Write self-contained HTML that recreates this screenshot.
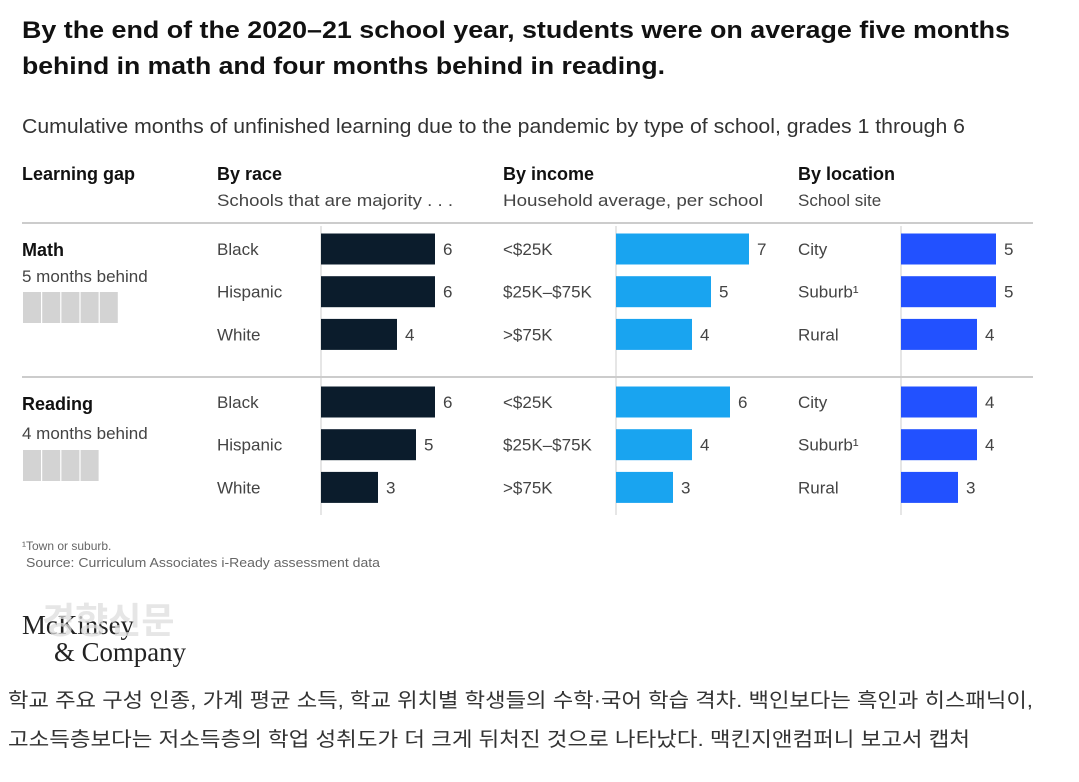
<!DOCTYPE html>
<html><head><meta charset="utf-8"><style>
body{margin:0;background:#fff;}
svg text{font-family:"Liberation Sans","Noto Sans CJK KR",sans-serif;}
</style></head><body>
<svg width="1079" height="777" viewBox="0 0 1079 777">
<text x="22" y="38" font-size="24" font-weight="bold" fill="#111" textLength="988" lengthAdjust="spacingAndGlyphs">By the end of the 2020–21 school year, students were on average five months</text>
<text x="22" y="74" font-size="24" font-weight="bold" fill="#111" textLength="643" lengthAdjust="spacingAndGlyphs">behind in math and four months behind in reading.</text>
<text x="22" y="133" font-size="20" fill="#333" textLength="943" lengthAdjust="spacingAndGlyphs">Cumulative months of unfinished learning due to the pandemic by type of school, grades 1 through 6</text>
<g font-size="18" fill="#111" font-weight="bold">
<text x="22" y="180">Learning gap</text>
<text x="217" y="180">By race</text>
<text x="503" y="180">By income</text>
<text x="798" y="180">By location</text>
</g>
<g font-size="17" fill="#444">
<text x="217" y="206" textLength="236" lengthAdjust="spacingAndGlyphs">Schools that are majority . . .</text>
<text x="503" y="206" textLength="260" lengthAdjust="spacingAndGlyphs">Household average, per school</text>
<text x="798" y="206">School site</text>
</g>
<line x1="22" y1="223" x2="1033" y2="223" stroke="#bbb" stroke-width="1.5"/>
<line x1="22" y1="377" x2="1033" y2="377" stroke="#bbb" stroke-width="1.5"/>
<g font-size="18" fill="#111" font-weight="bold">
<text x="22" y="256">Math</text>
<text x="22" y="410">Reading</text>
</g>
<g font-size="17" fill="#444">
<text x="22" y="282">5 months behind</text>
<text x="22" y="439">4 months behind</text>
</g>
<g id="squares"></g>
<g id="bars"></g>
<text x="22" y="550" font-size="12" fill="#666">¹Town or suburb.</text>
<text x="26" y="567" font-size="13" fill="#666" textLength="354" lengthAdjust="spacingAndGlyphs">Source: Curriculum Associates i-Ready assessment data</text>
<text x="22" y="634" font-size="27" fill="#222" textLength="112" lengthAdjust="spacingAndGlyphs" style="font-family:'Liberation Serif',serif">McKinsey</text>
<text x="54" y="661" font-size="27" fill="#222" textLength="132" lengthAdjust="spacingAndGlyphs" style="font-family:'Liberation Serif',serif">&amp; Company</text>
<text x="42" y="633" font-size="36" fill="#ddd" fill-opacity="0.75" font-weight="bold">경향신문</text>
<text x="8" y="707" font-size="20" fill="#333" textLength="1025" lengthAdjust="spacingAndGlyphs">학교 주요 구성 인종, 가계 평균 소득, 학교 위치별 학생들의 수학·국어 학습 격차. 백인보다는 흑인과 히스패닉이,</text>
<text x="8" y="746" font-size="20" fill="#333" textLength="962" lengthAdjust="spacingAndGlyphs">고소득층보다는 저소득층의 학업 성취도가 더 크게 뒤처진 것으로 나타났다. 맥킨지앤컴퍼니 보고서 캡처</text>
</svg>
<script>
const subjects=["Math","Reading"];
const gapMonths=[5,4];
const raceCats=["Black","Hispanic","White"];
const incomeCats=["<$25K","$25K–$75K",">$75K"];
const locationCats=["City","Suburb¹","Rural"];
const raceMath=[6,6,4], raceReading=[6,5,3];
const incomeMath=[7,5,4], incomeReading=[6,4,3];
const locMath=[5,5,4], locReading=[4,4,3];
const NS="http://www.w3.org/2000/svg";
const unit=19;
function x(v){return v*unit;}
function mk(tag,attrs,parent){const e=document.createElementNS(NS,tag);for(const k in attrs)e.setAttribute(k,attrs[k]);parent.appendChild(e);return e;}
const bars=document.getElementById('bars');
const sq=document.getElementById('squares');
const groupTops=[249,402];
gapMonths.forEach((g,gi)=>{
  const yTop=gi===0?292:450;
  for(let i=0;i<g;i++){
    const r=mk('rect',{x:23+i*19.2,y:yTop,width:18,height:31,fill:'#d3d3d3'},sq);
    
    
  }
});
const panels=[
 {cats:raceCats,data:[raceMath,raceReading],labelX:217,barX:321,color:'#0b1c2c',name:'race'},
 {cats:incomeCats,data:[incomeMath,incomeReading],labelX:503,barX:616,color:'#19a4f0',name:'income'},
 {cats:locationCats,data:[locMath,locReading],labelX:798,barX:901,color:'#2251ff',name:'location'}
];
panels.forEach(p=>{
  const ax=mk('line',{x1:p.barX,y1:226,x2:p.barX,y2:515,stroke:'#ccc','stroke-width':1},bars);
  
  
  p.data.forEach((series,si)=>{
    series.forEach((v,i)=>{
      const cy=groupTops[si]+i*42.7;
      const t=mk('text',{x:p.labelX,y:cy+6,'font-size':17,fill:'#444'},bars);
      t.textContent=p.cats[i];
      
      
      const r=mk('rect',{x:p.barX,y:cy-15.5,width:x(v),height:31,fill:p.color},bars);
      
      
      const vl=mk('text',{x:p.barX+x(v)+8,y:cy+6,'font-size':17,fill:'#444'},bars);
      vl.textContent=v;
      
      
    });
  });
});
</script>
</body></html>
